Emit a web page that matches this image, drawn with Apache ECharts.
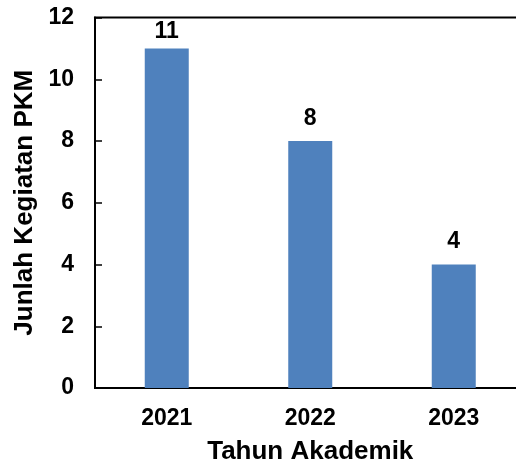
<!DOCTYPE html>
<html>
<head>
<meta charset="utf-8">
<script src="https://cdn.jsdelivr.net/npm/echarts@6/dist/echarts.min.js"></script>
<style>html,body{margin:0;padding:0;background:#fff}#c{width:516px;height:468px}</style>
</head>
<body>
<div id="c"></div>
<script>
const categories = ['2021', '2022', '2023'];
const values = [11, 8, 4];
const yTicks = [0, 2, 4, 6, 8, 10, 12];
const xTitle = 'Tahun Akademik';
const yTitle = 'Junlah Kegiatan PKM';

const FONT = '"Liberation Sans", Arial, sans-serif';
const chart = echarts.init(document.getElementById('c'), null, {renderer: 'canvas'});
chart.setOption({
  animation: false,
  backgroundColor: '#fff',
  grid: {
    left: 95, top: 17.5, bottom: 80, right: -9.5,
    show: true, borderColor: '#000', borderWidth: 2,
    backgroundColor: 'transparent',
    containLabel: false, outerBoundsMode: 'none'
  },
  xAxis: {
    type: 'category',
    data: categories,
    axisLine: {lineStyle: {color: '#000', width: 2}},
    axisTick: {show: false},
    axisLabel: {color: '#000', fontFamily: FONT, fontWeight: 'bold', fontSize: 23, margin: 19},
    name: xTitle,
    nameLocation: 'middle',
    nameGap: 51,
    nameTextStyle: {color: '#000', fontFamily: FONT, fontWeight: 'bold', fontSize: 26}
  },
  yAxis: {
    type: 'value',
    min: yTicks[0], max: yTicks[yTicks.length - 1], interval: 2,
    axisLine: {show: true, lineStyle: {color: '#000', width: 2}},
    axisTick: {show: true, inside: true, length: 7, lineStyle: {color: '#000', width: 1.5}},
    splitLine: {show: false},
    axisLabel: {color: '#000', fontFamily: FONT, fontWeight: 'bold', fontSize: 23, margin: 21},
    name: yTitle,
    nameLocation: 'middle',
    nameGap: 52,
    nameTextStyle: {color: '#000', fontFamily: FONT, fontWeight: 'bold', fontSize: 26}
  },
  series: [{
    type: 'bar',
    data: values.map((v, i) => i === 0 ? {value: v, label: {distance: 5}} : v),
    barWidth: 44,
    itemStyle: {color: '#4F81BD'},
    label: {show: true, position: 'top', distance: 11, color: '#000', fontFamily: FONT, fontWeight: 'bold', fontSize: 23}
  }]
});
</script>
</body>
</html>
